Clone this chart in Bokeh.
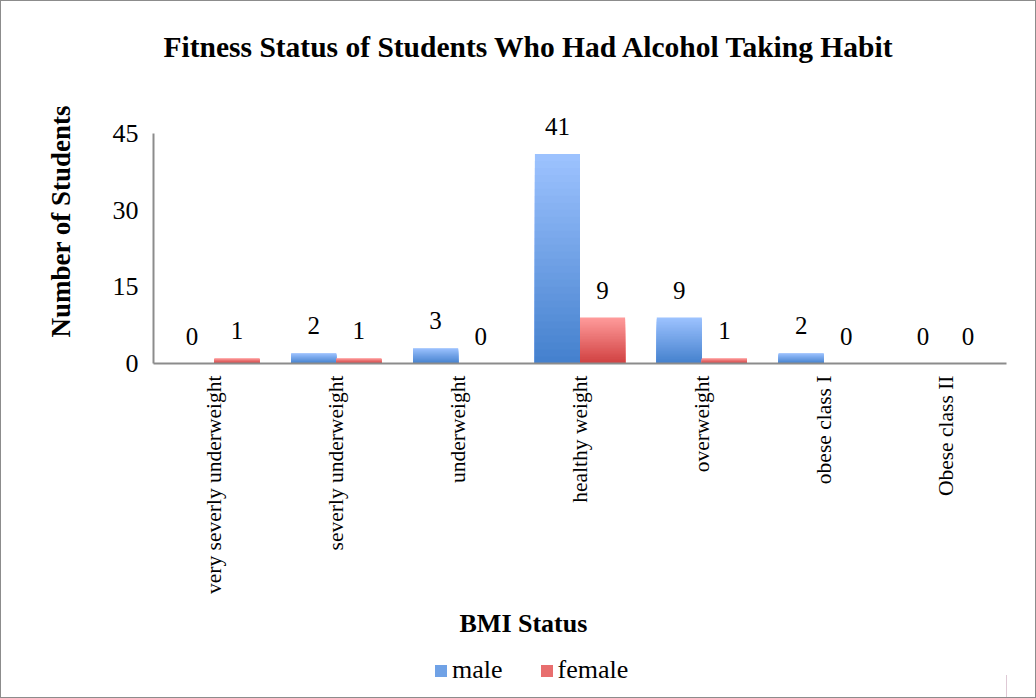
import math
from bokeh.plotting import figure
from bokeh.layouts import column
from bokeh.models import (ColumnDataSource, FactorRange, Range1d, Legend, LegendItem,
                          FixedTicker, LabelSet, Title)
from bokeh.transform import dodge
from bokeh.embed import file_html
from bokeh.resources import INLINE

categories = ["very severly underweight", "severly underweight", "underweight",
              "healthy weight", "overweight", "obese class I", "Obese class II"]
male = [0, 2, 3, 41, 9, 2, 0]
female = [1, 1, 0, 9, 1, 0, 0]
series = ["male", "female"]
y_ticks = [0, 15, 30, 45]

FONT = "Liberation Serif"
N_SLICES = 30
BAR_W = 0.37
OFF = 0.185

AXIS_MAX = 45
AXIS_PX = 230          # pixel height of the 0..45 axis
FRAME_W, FRAME_H = 853, 273
Y_END = AXIS_MAX * FRAME_H / AXIS_PX

MALE_BOTTOM, MALE_TOP = (68, 128, 205), (157, 195, 255)
FEMALE_BOTTOM, FEMALE_TOP = (208, 64, 64), (255, 156, 156)


def lerp_color(c1, c2, t):
    r = [round(a + (b - a) * t) for a, b in zip(c1, c2)]
    return "#%02x%02x%02x" % tuple(r)


def gradient_source(vals, bottom_rgb, top_rgb):
    # overlapping layers: tallest (lightest) first, shorter darker layers on top
    cats, bots, tops, cols = [], [], [], []
    for c, v in zip(categories, vals):
        for k in range(N_SLICES):
            frac = (N_SLICES - k) / N_SLICES
            cats.append(c)
            bots.append(0)
            tops.append(v * frac)
            cols.append(lerp_color(bottom_rgb, top_rgb, frac - 0.5 / N_SLICES))
    return ColumnDataSource(dict(cat=cats, bottom=bots, top=tops, color=cols))


p = figure(frame_width=FRAME_W, frame_height=FRAME_H,
           x_range=FactorRange(factors=categories, range_padding=0),
           y_range=Range1d(0, Y_END), output_backend="svg", toolbar_location=None,
           min_border_left=152, min_border_right=29, min_border_top=89, min_border_bottom=289)

p.title = Title(text="Fitness Status of Students Who Had Alcohol Taking Habit", align="left",
                offset=10, standoff=55, text_font=FONT, text_font_size="29.5px",
                text_font_style="bold", text_color="#000000")

male_src = gradient_source(male, MALE_BOTTOM, MALE_TOP)
female_src = gradient_source(female, FEMALE_BOTTOM, FEMALE_TOP)

p.vbar(x=dodge("cat", -OFF, range=p.x_range), bottom="bottom", top="top", width=BAR_W,
       fill_color="color", line_color=None, source=male_src)
p.vbar(x=dodge("cat", OFF, range=p.x_range), bottom="bottom", top="top", width=BAR_W,
       fill_color="color", line_color=None, source=female_src)

lbl = ColumnDataSource(dict(cat=categories, male=male, female=female,
                            mt=[str(v) for v in male], ft=[str(v) for v in female]))
for col, txt, off in (("male", "mt", -OFF), ("female", "ft", OFF)):
    p.add_layout(LabelSet(x=dodge("cat", off, range=p.x_range), y=col, text=txt, source=lbl,
                          text_align="center", text_baseline="bottom", y_offset=19,
                          text_font=FONT, text_font_size="25px", text_color="#000000"))

p.xgrid.visible = False
p.ygrid.visible = False
p.outline_line_color = None

ya = p.yaxis[0]
ya.ticker = FixedTicker(ticks=y_ticks)
ya.bounds = (0, AXIS_MAX)
ya.axis_line_color = "#8c8c8c"
ya.axis_line_width = 2
ya.major_tick_line_color = None
ya.minor_tick_line_color = None
ya.major_label_text_font = FONT
ya.major_label_text_font_size = "26px"
ya.major_label_text_color = "#000000"
ya.major_label_standoff = 9

xa = p.xaxis[0]
xa.axis_line_color = "#8c8c8c"
xa.axis_line_width = 2
xa.major_tick_line_color = None
xa.minor_tick_line_color = None
xa.major_label_orientation = math.pi / 2
xa.major_label_text_font = FONT
xa.major_label_text_font_size = "21.5px"
xa.major_label_text_color = "#000000"
xa.major_label_standoff = 6

p.add_layout(Title(text="Number of Students", align="left", offset=26, standoff=67,
                   text_font=FONT, text_font_size="27px", text_font_style="bold",
                   text_color="#000000"), "left")
p.add_layout(Title(text="BMI Status", align="left", offset=306, standoff=18,
                   text_font=FONT, text_font_size="26px", text_font_style="bold",
                   text_color="#000000"), "below")

# legend strip below the chart (legend swatches come from off-range dummy bars)
lf = figure(width=1034, height=45, x_range=Range1d(0, 1), y_range=Range1d(0, 1),
            x_axis_type=None, y_axis_type=None, output_backend="svg", toolbar_location=None,
            min_border=0)
lf.grid.visible = False
lf.outline_line_color = None
leg_items = []
for name, c_bot, c_top in ((series[0], MALE_BOTTOM, MALE_TOP),
                           (series[1], FEMALE_BOTTOM, FEMALE_TOP)):
    r = lf.vbar(x=[5], top=[0.5], width=0.1, fill_color=lerp_color(c_bot, c_top, 0.5),
                line_color=None)
    leg_items.append(LegendItem(label=name, renderers=[r]))

legend = Legend(items=leg_items, orientation="horizontal", location=(280, 12),
                label_text_font=FONT, label_text_font_size="26px", label_text_color="#000000",
                glyph_width=15, glyph_height=15, spacing=36, border_line_color=None,
                background_fill_alpha=0, label_standoff=4, margin=0, padding=2)
lf.add_layout(legend, "center")

layout = column(p, lf, spacing=0,
                styles={"border": "1px solid #8c8c8c", "box-sizing": "border-box"})

open("out.html", "w").write(file_html(layout, INLINE))
